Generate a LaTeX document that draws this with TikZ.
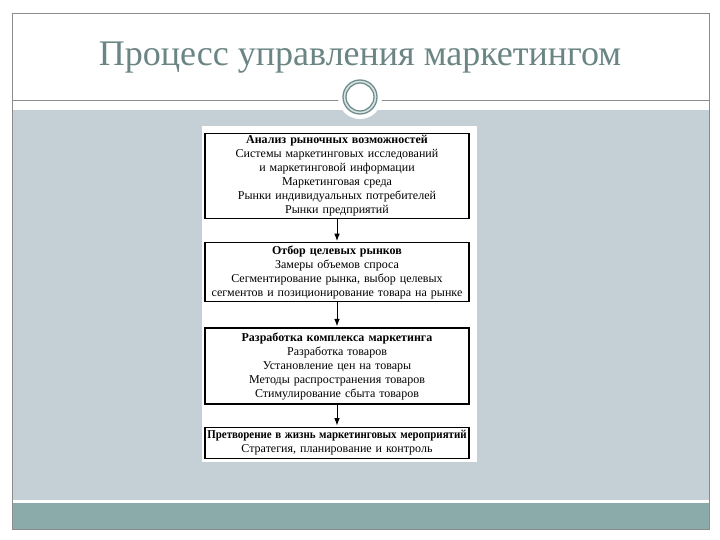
\documentclass[tikz,border=0pt]{standalone}
\usepackage{fontspec}
\setmainfont{Liberation Serif}
\usepackage{xcolor}
\definecolor{slidegray}{HTML}{C5D0D6}
\definecolor{slideteal}{HTML}{8AABAA}
\definecolor{titlecol}{HTML}{6A8583}
\definecolor{framecol}{HTML}{8C8C8C}
\definecolor{ringcol}{HTML}{6F8F8C}
\usetikzlibrary{arrows.meta, positioning}

\begin{document}
\begin{tikzpicture}[x=1pt, y=-1pt, >=Latex,
    stagebox/.style={draw=black, line width=1.2pt, fill=white,
        minimum width=264pt, text width=262pt, align=center, inner sep=1pt,
        font=\fontsize{12}{14}\selectfont},
    flow/.style={->, line width=1pt, shorten >=1pt}]

  \useasboundingbox (0,0) rectangle (720,540);
  \fill[white] (0,0) rectangle (720,540);

  % slide background
  \fill[slidegray] (12,110) rectangle (709,500);
  \fill[slideteal] (12,503) rectangle (709,529);
  \draw[framecol, line width=0.9pt] (12,13) rectangle (709,529);
  \draw[framecol, line width=0.9pt] (12,100) -- (709,100);

  % title
  \node[font=\fontsize{36}{40}\selectfont, text=titlecol] (title) at (360,58)
    {Процесс управления маркетингом};

  % ring on the separator
  \fill[white] (360,97) circle (22);
  \fill[slidegray!60] (360,97) circle (17);
  \fill[white] (360,97) circle (14);
  \draw[ringcol, line width=1.3pt] (360,97) circle (17);
  \draw[ringcol, line width=1.3pt] (360,97) circle (14);

  % scanned sheet
  \fill[white] (202,126) rectangle (477,462);

  \node[stagebox, minimum height=85pt, anchor=north] (analysis) at (337,133)
    {\textbf{Анализ рыночных возможностей}\\
     Системы маркетинговых исследований\\
     и маркетинговой информации\\
     Маркетинговая среда\\
     Рынки индивидуальных потребителей\\
     Рынки предприятий};

  \node[stagebox, minimum height=59pt, below=23pt of analysis] (targets)
    {\textbf{Отбор целевых рынков}\\
     Замеры объемов спроса\\
     Сегментирование рынка, выбор целевых\\
     сегментов и позиционирование товара на рынке};

  \node[stagebox, minimum height=76pt, below=25pt of targets] (mix)
    {\textbf{Разработка комплекса маркетинга}\\
     Разработка товаров\\
     Установление цен на товары\\
     Методы распространения товаров\\
     Стимулирование сбыта товаров};

  \node[stagebox, minimum height=31pt, below=22pt of mix] (action)
    {\scalebox{0.91}[1]{\textbf{Претворение в жизнь маркетинговых мероприятий}}\\
     Стратегия, планирование и контроль};

  \draw[flow] (analysis) -- (targets);
  \draw[flow] (targets) -- (mix);
  \draw[flow] (mix) -- (action);

\end{tikzpicture}
\end{document}
